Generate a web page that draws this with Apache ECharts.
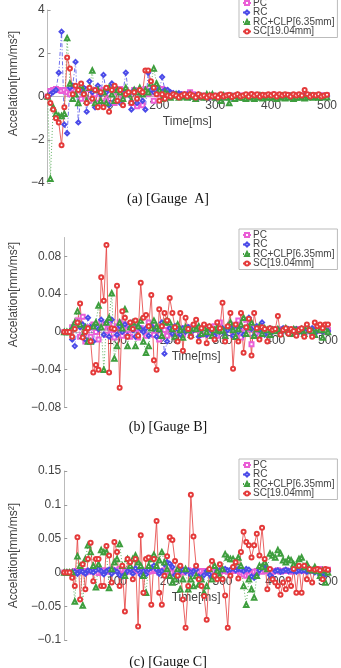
<!DOCTYPE html>
<html>
<head>
<meta charset="utf-8">
<script src="https://cdn.jsdelivr.net/npm/echarts@6/dist/echarts.min.js"></script>
<style>
  html, body { margin: 0; padding: 0; background: #fff; }
  #chart { width: 341px; height: 668px; }
</style>
</head>
<body>
<div id="chart"></div>
<script>
// time axis (ms)
const times = [0, 5, 10, 15, 20, 25, 30, 35, 40, 45,
  50, 55, 60, 65, 70, 75, 80, 85, 90, 95,
  100, 105, 110, 115, 120, 125, 130, 135, 140, 145,
  150, 155, 160, 165, 170, 175, 180, 185, 190, 195,
  200, 205, 210, 215, 220, 225, 230, 235, 240, 245,
  250, 255, 260, 265, 270, 275, 280, 285, 290, 295,
  300, 305, 310, 315, 320, 325, 330, 335, 340, 345,
  350, 355, 360, 365, 370, 375, 380, 385, 390, 395,
  400, 405, 410, 415, 420, 425, 430, 435, 440, 445,
  450, 455, 460, 465, 470, 475, 480, 485, 490, 495, 500];

const seriesNames = ['PC', 'RC', 'RC+CLP[6.35mm]', 'SC[19.04mm]'];
const xTicks = [0, 100, 200, 300, 400, 500];

// Gauge A
const aPC = [0, 0.25, 0.3, 0.35, 0.3, 0.25, 0.3, 0.2, 0.1, 0.35,
  0.25, 0.3, -0.1, 0.2, 0.35, -0.2, 0.3, 0.1, -0.3, 0.25,
  0.3, -0.2, 0.1, 0.4, -0.3, 0.2, 0.35, -0.1, 0.3, 0.15,
  -0.3, 0.3, -0.45, 0.2, -0.4, 0.35, 0.1, 0.2, -0.2, 0.3,
  0.1, 0.35, 0.3, 0.2, 0.15, 0.1, 0.05, 0.1, 0.05, 0.1,
  0.05, 0.2, 0.1, 0.05, -0.05, 0.0, 0.05, 0.02, -0.03, 0.05,
  0.0, 0.03, -0.02, 0.05, 0.02, 0.06, -0.02, 0.04, 0.03, 0.05,
  0.02, 0.06, 0.04, 0.08, 0.03, 0.05, 0.07, 0.02, 0.06, 0.04,
  0.05, 0.08, 0.03, 0.06, 0.02, 0.05, 0.07, 0.04, 0.06, 0.03,
  0.05, 0.02, 0.06, 0.04, 0.07, 0.03, 0.05, 0.02, 0.06, 0.04, 0.05];
const aRC = [0, 0.1, 0.2, 0.3, 1.1, 3.0, -1.3, -1.7, 0.4, 0.5,
  1.6, -1.2, 0.3, 0.4, -0.7, 0.7, 0.2, -0.5, 0.5, 0.1,
  1.0, 0.2, -0.4, 0.6, -0.2, 0.3, -0.3, 0.2, 1.1, 0.1,
  -0.6, 0.3, -0.3, 0.2, -0.2, -0.6, 1.1, 0.3, 0.2, 0.4,
  0.3, 0.9, 0.3, 0.3, 0.2, 0.15, 0.1, 0.15, 0.1, 0.05,
  0.1, -0.05, 0.0, 0.05, -0.05, 0.02, -0.05, 0.0, -0.03, 0.02,
  -0.05, 0.0, -0.08, 0.02, -0.04, 0.0, -0.06, 0.03, -0.02, 0.0,
  -0.05, 0.02, -0.03, 0.04, 0.0, -0.02, 0.03, 0.0, -0.04, 0.02,
  0.0, 0.03, -0.02, 0.04, 0.0, -0.03, 0.02, 0.0, -0.02, 0.03,
  0.0, -0.03, 0.02, 0.04, 0.0, -0.02, 0.03, 0.0, 0.02, -0.01, 0.02];
const aCLP = [0, -3.8, -0.5, -0.8, -0.9, -0.9, -0.8, 2.7, 0.6, -0.1,
  0.1, -0.3, 0.5, 0.2, -0.2, 0.4, 1.2, -0.3, 0.3, -0.2,
  0.2, -0.3, 0.4, 0.1, -0.2, 0.3, 0.2, -0.1, 0.4, 0.1,
  -0.2, 0.3, 0.2, 0.4, 0.1, 0.3, 0.2, 0.6, 1.3, 0.6,
  0.3, -0.1, 0.2, 0.1, -0.05, 0.05, 0.1, -0.05, 0.0, 0.05,
  -0.05, 0.1, 0.0, -0.1, 0.05, 0.0, -0.05, 0.1, 0.05, 0.1,
  -0.05, 0.0, -0.2, 0.05, -0.05, -0.3, 0.0, -0.1, 0.05, -0.05,
  -0.05, -0.1, -0.05, 0.0, -0.1, -0.05, 0.05, -0.08, 0.0, -0.05,
  -0.05, 0.0, -0.1, -0.05, 0.02, -0.08, -0.05, 0.0, -0.1, -0.05,
  -0.05, 0.0, -0.08, -0.03, 0.02, -0.05, 0.0, -0.05, -0.02, 0.0, -0.03];
const aSC = [0, -0.3, -0.6, -1.0, -1.2, -2.25, -0.5, 1.8, 1.3, 0.1,
  0.5, 0.3, 0.6, 0.1, -0.3, 0.4, -0.1, 0.3, -0.5, 0.2,
  -0.5, 0.4, -0.7, 0.3, 0.5, -0.2, 0.3, -0.4, 0.1, 0.2,
  -0.3, 0.2, -0.1, 0.3, 0.2, 1.2, 1.2, 0.7, 0.4, 0.1,
  -0.2, 0.1, -0.1, 0.05, 0.0, 0.1, 0.05, -0.05, 0.05, 0.1,
  0.0, 0.1, 0.05, -0.05, 0.1, 0.0, 0.05, -0.05, 0.05, 0.0,
  0.05, -0.05, 0.1, 0.0, 0.05, 0.08, -0.02, 0.05, 0.1, 0.0,
  0.05, 0.1, 0.0, 0.12, 0.05, 0.1, 0.0, 0.08, 0.05, 0.1,
  0.05, 0.12, 0.0, 0.1, 0.05, 0.1, 0.08, 0.0, 0.1, 0.05,
  0.1, 0.05, 0.3, 0.1, 0.0, 0.08, 0.05, 0.1, 0.0, 0.05, 0.08];

// Gauge B
const bPC = [0, 0, 0, 0.005, 0.008, 0.012, -0.005, 0.016, -0.01, 0.005,
  -0.005, 0.008, 0.0, -0.008, 0.01, 0.005, -0.003, 0.008, 0.002, -0.006,
  0.006, 0.01, -0.004, 0.008, 0.002, -0.005, 0.01, 0.003, -0.006, 0.004,
  0.002, -0.004, 0.01, 0.006, -0.003, 0.004, -0.008, 0.005, 0.002, -0.004,
  0.003, -0.002, 0.005, 0.0, 0.004, -0.003, 0.002, 0.005, -0.002, 0.003,
  0.002, 0.004, -0.003, 0.001, 0.005, -0.002, 0.003, 0.006, -0.004, 0.01,
  0.002, -0.005, 0.004, 0.008, -0.003, 0.006, 0.012, -0.006, 0.004, 0.013,
  0.003, -0.013, 0.005, 0.002, -0.004, 0.003, 0.001, 0.002, -0.002, 0.003,
  0.001, 0.002, -0.001, 0.003, 0.002, 0.0, 0.002, -0.002, 0.003, 0.001,
  0.002, 0.0, 0.003, 0.001, -0.002, 0.002, 0.003, 0.001, 0.002, 0.0, 0.002];
const bRC = [0, 0, 0, -0.008, -0.015, 0.01, 0.005, 0.008, -0.008, 0.015,
  0.005, -0.01, 0.008, 0.003, 0.013, -0.003, 0.01, -0.005, 0.013, 0.003,
  -0.003, 0.006, 0.0, 0.008, -0.004, 0.005, 0.002, -0.005, 0.006, 0.003,
  0.0, 0.004, -0.004, 0.006, 0.003, -0.005, 0.002, 0.01, -0.023, -0.01,
  0.004, -0.002, 0.006, 0.003, -0.003, 0.004, 0.0, 0.005, -0.004, 0.002,
  0.004, -0.005, 0.002, 0.006, -0.003, 0.004, 0.001, -0.004, 0.003, 0.0,
  0.004, -0.003, 0.002, 0.005, -0.004, 0.003, 0.0, 0.006, -0.003, 0.004,
  0.015, 0.003, -0.004, 0.006, 0.002, 0.01, -0.003, 0.002, 0.004, 0.0,
  0.002, 0.003, -0.002, 0.004, 0.001, 0.003, -0.002, 0.002, 0.003, 0.0,
  0.002, -0.003, 0.003, 0.001, 0.004, -0.002, 0.002, 0.003, 0.0, 0.002, 0.001];
const bCLP = [0, 0, 0, 0.004, 0.01, 0.022, 0.008, -0.004, 0.005, -0.01,
  -0.01, 0.006, 0.01, 0.028, 0.005, -0.04, 0.01, 0.015, 0.041, -0.028,
  -0.015, 0.01, 0.004, 0.024, -0.015, 0.005, 0.01, -0.015, 0.006, 0.012,
  -0.01, -0.022, -0.015, 0.004, 0.012, 0.006, 0.003, -0.004, 0.01, 0.012,
  0.01, 0.003, -0.005, 0.008, 0.002, -0.006, 0.005, 0.002, -0.003, 0.004,
  0.003, 0.006, -0.002, 0.004, 0.0, 0.005, -0.004, 0.002, 0.005, 0.001,
  0.002, -0.004, 0.006, 0.01, 0.002, -0.005, 0.003, 0.008, 0.015, -0.002,
  0.005, 0.01, -0.004, 0.003, 0.006, -0.002, 0.004, 0.002, -0.003, 0.002,
  0.001, 0.003, -0.002, 0.002, 0.004, 0.001, -0.002, 0.003, 0.002, 0.001,
  0.003, -0.002, 0.006, 0.002, 0.001, -0.003, 0.004, 0.002, -0.006, 0.002, 0.0];
const bSC = [0, 0, 0, -0.005, 0.003, 0.01, 0.03, -0.006, 0.0, 0.004,
  -0.01, -0.043, -0.035, -0.04, 0.058, 0.033, 0.092, -0.043, 0.004, 0.003,
  0.049, -0.059, 0.022, 0.015, -0.005, 0.01, 0.003, 0.012, -0.004, 0.052,
  0.015, 0.018, 0.006, 0.039, -0.03, -0.04, 0.024, 0.006, 0.02, 0.012,
  0.036, 0.02, 0.005, -0.01, 0.02, -0.02, 0.015, 0.003, -0.005, 0.008,
  0.013, -0.01, 0.004, 0.008, -0.012, 0.006, 0.003, -0.008, 0.01, 0.004,
  0.031, -0.01, 0.006, 0.02, -0.039, 0.008, -0.01, 0.02, -0.022, 0.005,
  0.014, -0.025, 0.02, 0.004, -0.008, 0.005, 0.003, -0.01, 0.004, 0.002,
  0.003, 0.017, -0.003, 0.002, 0.004, -0.002, 0.003, 0.001, -0.004, 0.002,
  0.004, -0.005, 0.008, 0.002, -0.005, 0.01, 0.006, 0.008, 0.004, 0.008, 0.008];

// Gauge C
const cPC = [0, 0, 0, 0, 0.002, 0.001, 0.003, 0.002, 0.0, 0.002,
  0.001, 0.003, 0.002, -0.001, 0.002, 0.003, 0.001, 0.002, 0.004, 0.002,
  0.003, 0.005, 0.004, 0.002, 0.003, 0.001, 0.002, 0.004, 0.002, 0.0,
  0.002, 0.003, 0.001, 0.002, 0.004, 0.002, 0.0, 0.002, 0.003, 0.001,
  0.002, 0.0, -0.002, 0.001, 0.002, 0.0, 0.002, 0.003, 0.001, 0.002,
  0.003, 0.001, 0.002, 0.0, 0.002, 0.001, -0.001, 0.002, 0.003, 0.001,
  0.002, 0.003, 0.001, 0.002, 0.004, 0.002, 0.003, 0.0, -0.003, -0.005,
  -0.004, -0.002, 0.001, 0.002, 0.003, 0.001, 0.002, 0.003, 0.002, 0.001,
  0.002, 0.003, 0.001, 0.002, 0.003, 0.002, 0.001, 0.003, 0.002, 0.003,
  0.002, 0.003, 0.004, 0.003, 0.002, 0.004, 0.003, 0.005, 0.004, 0.003, 0.004];
const cRC = [0, 0, 0, 0, 0.001, -0.002, 0.002, 0.001, -0.002, 0.003,
  0.002, 0.0, 0.003, 0.005, 0.002, -0.003, 0.002, 0.004, -0.002, 0.003,
  0.001, -0.004, -0.006, -0.003, 0.002, 0.004, -0.002, 0.006, 0.003, -0.004,
  0.002, -0.003, 0.004, 0.007, 0.01, 0.004, -0.002, 0.002, 0.012, 0.015,
  0.013, 0.008, -0.004, -0.006, 0.002, 0.004, 0.001, 0.003, -0.004, 0.002,
  0.004, -0.006, -0.01, -0.004, 0.002, -0.003, -0.008, -0.004, 0.002, 0.003,
  0.004, 0.005, 0.003, 0.004, 0.006, 0.003, 0.005, 0.004, 0.002, 0.005,
  0.004, -0.006, -0.008, -0.004, 0.003, 0.008, 0.012, 0.006, -0.004, -0.008,
  0.002, 0.003, 0.001, 0.002, 0.004, 0.002, 0.003, 0.002, 0.001, 0.003,
  0.002, 0.003, 0.001, 0.002, 0.003, 0.0, 0.002, -0.004, -0.006, -0.003, 0.002];
const cCLP = [0, 0, 0, 0, -0.043, 0.024, 0.01, -0.049, 0.02, 0.04,
  0.03, 0.01, -0.022, 0.012, 0.033, 0.03, 0.03, -0.023, 0.005, 0.015,
  0.02, 0.042, 0.01, -0.005, 0.02, 0.01, 0.02, 0.025, 0.015, 0.01,
  -0.005, -0.03, 0.01, 0.02, 0.026, 0.01, 0.018, 0.03, 0.015, 0.005,
  -0.005, -0.015, -0.01, 0.005, -0.025, -0.01, 0.005, -0.025, -0.01, -0.02,
  -0.005, -0.018, -0.01, -0.03, -0.02, 0.005, -0.01, 0.01, 0.002, -0.005,
  0.005, 0.027, 0.022, 0.02, 0.02, 0.015, 0.022, 0.01, -0.02, -0.048,
  -0.01, -0.025, -0.037, -0.005, 0.01, 0.008, 0.015, 0.005, 0.028, 0.025,
  0.022, 0.033, 0.028, 0.018, 0.015, 0.02, 0.018, 0.012, 0.01, 0.02,
  0.022, 0.008, 0.012, 0.005, 0.003, 0.008, 0.002, -0.005, 0.003, -0.015, 0.0];
const cSC = [0, 0, 0, -0.008, -0.02, 0.052, -0.04, 0.012, -0.025, 0.02,
  0.044, -0.013, 0.02, 0.02, -0.02, -0.02, 0.039, 0.025, -0.015, 0.045,
  0.03, -0.02, 0.01, -0.058, 0.02, 0.015, -0.01, 0.02, -0.08, 0.055,
  -0.03, 0.02, 0.022, -0.048, 0.02, 0.076, -0.03, -0.048, -0.005, 0.024,
  0.052, 0.048, 0.017, -0.005, 0.01, -0.04, -0.082, -0.02, 0.115, 0.053,
  0.01, -0.01, -0.02, -0.035, -0.07, 0.005, 0.017, -0.005, -0.01, 0.012,
  -0.01, -0.034, -0.082, -0.005, 0.008, 0.015, -0.009, 0.03, 0.06, 0.045,
  0.04, 0.022, 0.04, 0.057, 0.025, 0.066, 0.02, -0.025, 0.005, -0.01,
  -0.015, -0.02, -0.033, -0.015, -0.025, -0.01, -0.02, 0.005, -0.03, 0.01,
  -0.03, 0.01, -0.01, 0.005, -0.015, 0.004, 0.005, 0.003, -0.01, 0.005, 0.004];

const colors = ['#ea5fd6', '#4b4be8', '#3e9e3e', '#e43a3a'];
const symbols = ['emptyRect', 'emptyDiamond', 'emptyTriangle', 'emptyCircle'];
const dashes = [[4, 2], [4, 2, 1, 2], [1, 2], 'solid'];

const minus = v => String(v).replace('-', '\u2212');

// 三个子图的布局
const panels = [
  { data: [aPC, aRC, aCLP, aSC], left: 41, top: 10, width: 286, height: 173, min: -4, max: 4, step: 2, legendTop: -3, namePad: 26, title: '(a) [Gauge  A]', titleY: 199 },
  { data: [bPC, bRC, bCLP, bSC], left: 45, top: 237.5, width: 283, height: 170, min: -0.08, max: 0.1, step: 0.04, legendTop: 229, namePad: 56, title: '(b) [Gauge B]', titleY: 427 },
  { data: [cPC, cRC, cCLP, cSC], left: 48, top: 471, width: 284, height: 169, min: -0.1, max: 0.15, step: 0.05, legendTop: 459, namePad: 0, title: '(c) [Gauge C]', titleY: 662 }
];

const grid = [], xAxis = [], yAxis = [], series = [], legend = [], graphic = [];

panels.forEach((p, k) => {
  grid.push({ left: p.left, top: p.top, width: p.width, height: p.height });
  // x 轴放在 y=0 处
  const zeroOffset = -p.height * (-p.min) / (p.max - p.min);
  xAxis.push({
    gridIndex: k, type: 'value', min: xTicks[0], max: xTicks[xTicks.length - 1], interval: 100,
    offset: zeroOffset,
    name: 'Time[ms]', nameLocation: 'middle', nameGap: 19,
    nameTextStyle: { color: '#444', fontSize: 12, fontFamily: 'Liberation Sans' },
    axisLine: { onZero: false, lineStyle: { color: '#bbb' } },
    axisTick: { inside: true, length: 3, lineStyle: { color: '#999' } },
    axisLabel: { showMinLabel: false, margin: 3, color: '#444', fontSize: 12, fontFamily: 'Liberation Sans' },
    splitLine: { show: false }
  });
  yAxis.push({
    gridIndex: k, type: 'value', min: p.min, max: p.max, interval: p.step,
    name: 'Accelation[mm/ms²]', nameLocation: 'middle', nameGap: 26,
    nameTextStyle: { color: '#444', fontSize: 12, fontFamily: 'Liberation Sans', padding: [0, 0, 0, p.namePad] },
    axisLine: { show: true, onZero: false, lineStyle: { color: '#bbb' } },
    axisTick: { inside: true, length: 3, lineStyle: { color: '#999' } },
    axisLabel: { showMaxLabel: p.max !== 0.1, margin: 3, color: '#444', fontSize: 12, fontFamily: 'Liberation Sans', formatter: minus },
    splitLine: { show: false }
  });
  p.data.forEach((vals, i) => {
    series.push({
      name: seriesNames[i], type: 'line', xAxisIndex: k, yAxisIndex: k,
      data: times.map((t, j) => [t, vals[j]]),
      symbol: symbols[i], symbolSize: i === 2 ? 4.5 : 4,
      itemStyle: { color: colors[i], borderWidth: 0.8 },
      lineStyle: { color: colors[i], width: 0.8, type: dashes[i] },
      emphasis: { disabled: true },
      animation: false
    });
  });
  legend.push({
    data: seriesNames, orient: 'vertical', left: 239, top: p.legendTop,
    itemGap: -0.5, itemWidth: 8, itemHeight: 5,
    padding: [1, 3, 1, 3], backgroundColor: '#fff', borderColor: '#bbb', borderWidth: 1,
    textStyle: { color: '#444', fontSize: 10, fontFamily: 'Liberation Sans', padding: [0, 0, 0, -3] }
  });
  graphic.push({
    type: 'text', x: 168, y: p.titleY,
    style: { text: p.title, fill: '#111', font: '14px "Liberation Serif"', textAlign: 'center', textVerticalAlign: 'middle' }
  });
});

const chart = echarts.init(document.getElementById('chart'), null, { renderer: 'canvas' });
chart.setOption({ animation: false, grid, xAxis, yAxis, series, legend, graphic });
</script>
</body>
</html>
